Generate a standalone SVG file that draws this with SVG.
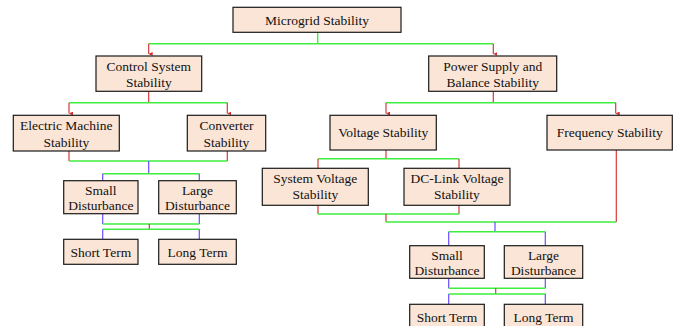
<svg xmlns="http://www.w3.org/2000/svg" width="673" height="326" viewBox="0 0 673 326">
<defs>
<marker id="ah" viewBox="0 0 6 6" refX="3" refY="6" markerWidth="4" markerHeight="4" orient="auto-start-reverse" markerUnits="userSpaceOnUse">
<path d="M0,0 L6,0 L3,6 Z" fill="#d42b2b"/>
</marker>
</defs>
<style>
.box{fill:#fbe5d6;stroke:#1a1a1a;stroke-width:1.2}
.t{font-family:"Liberation Serif","Times New Roman",serif;font-size:13.5px;fill:#111;text-anchor:middle}
.g{stroke:#3dee3d;stroke-width:1.4;fill:none}
.r{stroke:#d43a3a;stroke-width:1.2;fill:none}
.b{stroke:#6a4dff;stroke-width:1.2;fill:none}
.ra{stroke:#d43a3a;stroke-width:1.2;fill:none}
</style>
<rect width="673" height="326" fill="#fff"/>
<g id="connectors">
<!-- root -->
<path class="g" d="M317.7,32.3 V43.7 M148.7,43.7 H493.3"/>
<path class="ra" d="M148.7,43.7 V54" marker-end="url(#ah)"/>
<path class="ra" d="M493.3,43.7 V54" marker-end="url(#ah)"/>
<!-- control system -->
<path class="r" d="M148.7,91.3 V102.7"/>
<path class="g" d="M69,102.7 H227.3"/>
<path class="ra" d="M69,102.7 V113.5" marker-end="url(#ah)"/>
<path class="ra" d="M227.3,102.7 V113.5" marker-end="url(#ah)"/>
<path class="r" d="M69,151 V161 M227.3,151 V161"/>
<path class="g" d="M69,161 H227.3"/>
<path class="b" d="M148.7,161 V173.7"/>
<path class="g" d="M102.7,173.7 H199.3"/>
<path class="b" d="M102.7,173.7 V180.7 M199.3,173.7 V180.7"/>
<path class="b" d="M102.7,213.7 V224 M199.3,213.7 V224"/>
<path class="g" d="M102.7,224 H199.3"/>
<path class="r" d="M149.3,224 V229.3"/>
<path class="g" d="M102.7,229.3 H199.3"/>
<path class="b" d="M102.7,229.3 V239.3 M199.3,229.3 V239.3"/>
<!-- power supply -->
<path class="r" d="M493.3,91.3 V102.7"/>
<path class="g" d="M386,102.7 H615.7"/>
<path class="ra" d="M386,102.7 V113.5" marker-end="url(#ah)"/>
<path class="ra" d="M615.7,102.7 V113.5" marker-end="url(#ah)"/>
<path class="r" d="M386,150 V158.7"/>
<path class="g" d="M318,158.7 H459"/>
<path class="r" d="M318,158.7 V168.3 M459,158.7 V168.3"/>
<path class="r" d="M318,205.3 V214 M459,205.3 V214"/>
<path class="g" d="M318,214 H459"/>
<path class="r" d="M386,214 V222"/>
<path class="r" d="M616.3,150 V222"/>
<path class="g" d="M386,222 H616.3"/>
<path class="b" d="M495,222 V231.7"/>
<path class="g" d="M448.7,231.7 H545.3"/>
<path class="b" d="M448.7,231.7 V245.7 M545.3,231.7 V245.7"/>
<path class="b" d="M448.7,278.3 V288.3 M545.3,278.3 V288.3"/>
<path class="g" d="M448.7,288.3 H545.3"/>
<path class="r" d="M495.7,288.3 V294"/>
<path class="g" d="M448.7,294 H545.3"/>
<path class="b" d="M448.7,294 V304.3 M545.3,294 V304.3"/>
</g>
<g id="n-root"><rect class="box" x="233" y="7.3" width="168" height="25"/><text class="t" x="317" y="24.5">Microgrid Stability</text></g>
<g id="n-control"><rect class="box" x="96" y="56" width="105.7" height="35.3"/><text class="t" x="148.8" y="70.5">Control System</text><text class="t" x="148.8" y="86.5">Stability</text></g>
<g id="n-electric"><rect class="box" x="13.3" y="115.3" width="106" height="35.7"/><text class="t" x="66.3" y="130">Electric Machine</text><text class="t" x="66.3" y="146.5">Stability</text></g>
<g id="n-converter"><rect class="box" x="187.3" y="115.3" width="78.4" height="35.7"/><text class="t" x="226.5" y="130">Converter</text><text class="t" x="226.5" y="146.5">Stability</text></g>
<g id="n-small1"><rect class="box" x="63.7" y="180.7" width="74.3" height="33"/><text class="t" x="100.8" y="194.5">Small</text><text class="t" x="100.8" y="210">Disturbance</text></g>
<g id="n-large1"><rect class="box" x="158.7" y="180.7" width="77.6" height="33"/><text class="t" x="197.5" y="194.5">Large</text><text class="t" x="197.5" y="210">Disturbance</text></g>
<g id="n-short1"><rect class="box" x="63.7" y="239.3" width="74.3" height="25"/><text class="t" x="100.8" y="256.5">Short Term</text></g>
<g id="n-long1"><rect class="box" x="158.7" y="239.3" width="77.6" height="25"/><text class="t" x="197.5" y="256.5">Long Term</text></g>
<g id="n-power"><rect class="box" x="428.7" y="56" width="128" height="35.3"/><text class="t" x="492.7" y="70.5">Power Supply and</text><text class="t" x="492.7" y="86.5">Balance Stability</text></g>
<g id="n-voltage"><rect class="box" x="330" y="115.3" width="106.3" height="34.7"/><text class="t" x="383.2" y="137">Voltage Stability</text></g>
<g id="n-frequency"><rect class="box" x="547" y="115.3" width="125.3" height="34.7"/><text class="t" x="609.7" y="137">Frequency Stability</text></g>
<g id="n-sysvolt"><rect class="box" x="262.3" y="168.3" width="106" height="37"/><text class="t" x="315.3" y="183">System Voltage</text><text class="t" x="315.3" y="199">Stability</text></g>
<g id="n-dclink"><rect class="box" x="404" y="168.3" width="106" height="37"/><text class="t" x="457" y="183">DC-Link Voltage</text><text class="t" x="457" y="199">Stability</text></g>
<g id="n-small2"><rect class="box" x="409.7" y="245.7" width="74.6" height="32.6"/><text class="t" x="447" y="259.5">Small</text><text class="t" x="447" y="275">Disturbance</text></g>
<g id="n-large2"><rect class="box" x="504.3" y="245.7" width="78.4" height="32.6"/><text class="t" x="543.5" y="259.5">Large</text><text class="t" x="543.5" y="275">Disturbance</text></g>
<g id="n-short2"><rect class="box" x="409.7" y="304.3" width="74.6" height="30"/><text class="t" x="447" y="321.5">Short Term</text></g>
<g id="n-long2"><rect class="box" x="504.3" y="304.3" width="78.4" height="30"/><text class="t" x="543.5" y="321.5">Long Term</text></g>
</svg>
